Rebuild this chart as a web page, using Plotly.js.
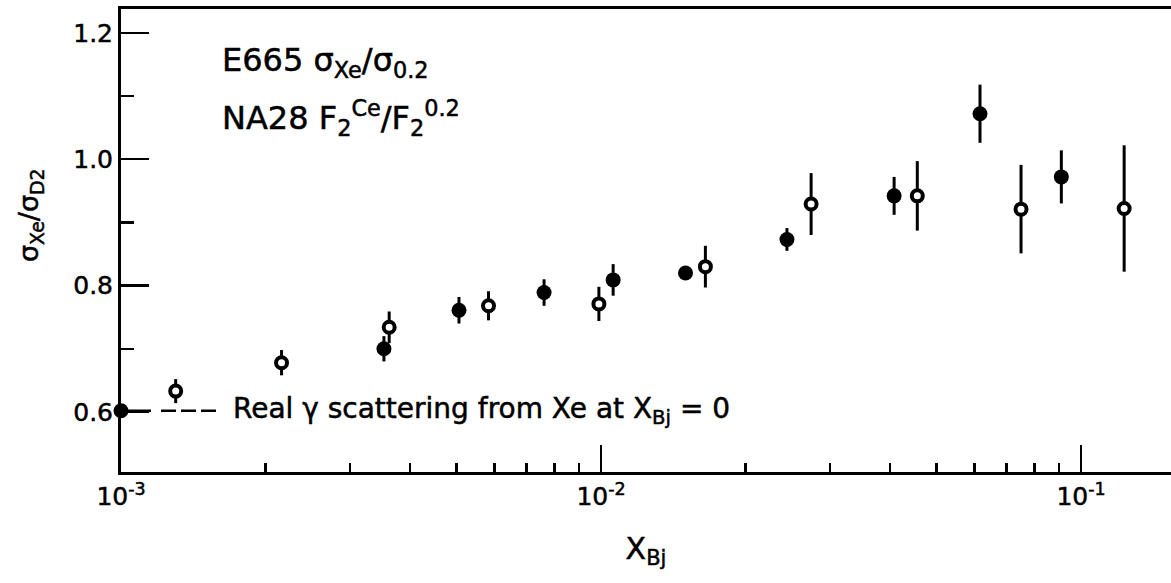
<!DOCTYPE html>
<html>
<head>
<meta charset="utf-8">
<script src="https://cdn.plot.ly/plotly-3.0.1.min.js"></script>
<style>
  html, body { margin: 0; padding: 0; background: #fff; overflow: hidden; }
  #chart { width: 1171px; height: 583px; }
  /* hand-lettered look: slightly heavier strokes */
  #chart .main-svg text { stroke: #000; stroke-width: 0.5px; }
</style>
</head>
<body>
<div id="chart"></div>
<script>
// E665 sigma(Xe)/sigma(D2) -- open circles
const e665X   = [0.0013, 0.00216, 0.00362, 0.00583, 0.0099, 0.0165, 0.0274, 0.0456, 0.075, 0.123];
const e665Y   = [0.633, 0.678, 0.734, 0.768, 0.771, 0.830, 0.929, 0.942, 0.921, 0.922];
const e665Err = [0.019, 0.020, 0.025, 0.023, 0.027, 0.033, 0.049, 0.055, 0.070, 0.100];

// NA28 F2(Ca)/F2(D2) -- filled circles
const na28X   = [0.00353, 0.00506, 0.00761, 0.0106, 0.0150, 0.0244, 0.0408, 0.0616, 0.091];
const na28Y   = [0.700, 0.761, 0.789, 0.809, 0.820, 0.873, 0.942, 1.072, 0.972];
const na28Err = [0.020, 0.021, 0.021, 0.025, 0.000, 0.018, 0.030, 0.046, 0.042];

// real photon scattering point (x_Bj = 0), placed on the left edge
const photonX = [0.001];
const photonY = [0.602];
const guideX  = [0.001, 0.0016];
const guideY  = [0.602, 0.602];

// axis ticks
const xTickVals  = [0.001, 0.01, 0.1];
const xTickText  = ['10<sup>-3</sup>', '10<sup>-2</sup>', '10<sup>-1</sup>'];
const yTickVals  = [0.6, 0.8, 1.0, 1.2];
const yTickText  = ['0.6', '0.8', '1.0', '1.2'];
const yMinorVals = [0.7, 0.9, 1.1];
const xMinorVals = [];
[0.001, 0.01].forEach(d => { for (let k = 2; k <= 9; k++) xMinorVals.push(k * d); });

const FONT = 'DejaVu Sans, Liberation Sans, sans-serif';
const INK = '#000';

const traces = [
  {
    x: guideX, y: guideY, mode: 'lines', hoverinfo: 'skip',
    line: { color: INK, width: 2.5, dash: '30px,10px,15px,5px,15px,5px,15px,200px' }
  },
  {
    x: na28X, y: na28Y, mode: 'markers', name: 'NA28',
    error_y: { type: 'data', array: na28Err, visible: true, color: INK, thickness: 3, width: 0 },
    marker: { symbol: 'circle', size: 15, color: INK }
  },
  {
    x: e665X, y: e665Y, mode: 'markers', name: 'E665',
    error_y: { type: 'data', array: e665Err, visible: true, color: INK, thickness: 3, width: 0 },
    marker: { symbol: 'circle', size: 11, color: '#fff', line: { color: INK, width: 4 } }
  },
  {
    x: photonX, y: photonY, mode: 'markers', name: 'real photon',
    marker: { symbol: 'circle', size: 15, color: INK }, cliponaxis: false
  }
];

const layout = {
  width: 1171, height: 583,
  margin: { l: 121, r: 0, t: 9, b: 111 },
  paper_bgcolor: '#fff', plot_bgcolor: '#fff',
  showlegend: false,
  font: { family: FONT, color: INK, size: 24 },
  xaxis: {
    type: 'log', range: [-3, -0.8125],
    showline: true, linewidth: 3, linecolor: INK, mirror: true,
    showgrid: false, zeroline: false,
    ticks: 'inside', ticklen: 27, tickwidth: 2.5, tickcolor: INK,
    tickvals: xTickVals, ticktext: xTickText,
    tickfont: { family: FONT, size: 25, color: INK },
    minor: { tickvals: xMinorVals, ticks: 'inside', ticklen: 9, tickwidth: 2.5, tickcolor: INK, showgrid: false },
    title: { text: 'X<sub>Bj</sub>', font: { family: FONT, size: 30, color: INK }, standoff: 28 }
  },
  yaxis: {
    range: [0.505, 1.2377],
    showline: true, linewidth: 3, linecolor: INK, mirror: false,
    showgrid: false, zeroline: false,
    ticks: 'inside', ticklen: 28, tickwidth: 2.5, tickcolor: INK,
    tickvals: yTickVals, ticktext: yTickText,
    tickfont: { family: FONT, size: 25, color: INK },
    minor: { tickvals: yMinorVals, ticks: 'inside', ticklen: 13, tickwidth: 2.5, tickcolor: INK, showgrid: false }
  },
  annotations: [
    {
      // y-axis title, set a little above the plot's middle
      xref: 'paper', yref: 'paper', x: -0.0867, y: 0.555, xanchor: 'center', yanchor: 'middle',
      textangle: -90, text: 'σ<sub>Xe</sub>/σ<sub>D2</sub>', showarrow: false,
      font: { family: FONT, size: 27, color: INK }
    },
    {
      xref: 'paper', yref: 'paper', x: 0.094, y: 0.886, xanchor: 'left', yanchor: 'middle',
      text: 'E665 σ<sub>Xe</sub>/σ<sub>0.2</sub>', showarrow: false,
      font: { family: FONT, size: 32, color: INK }
    },
    {
      xref: 'paper', yref: 'paper', x: 0.094, y: 0.765, xanchor: 'left', yanchor: 'middle',
      text: 'NA28 F<sub>2</sub><sup>Ce</sup>/F<sub>2</sub><sup>0.2</sup>', showarrow: false,
      font: { family: FONT, size: 32, color: INK }
    },
    {
      xref: 'x', yref: 'y', x: -2.771, y: 0.602, xanchor: 'left', yanchor: 'middle',
      text: 'Real γ scattering from Xe at X<sub>Bj</sub> = 0', showarrow: false,
      font: { family: FONT, size: 28, color: INK }
    }
  ]
};

Plotly.newPlot('chart', traces, layout, { staticPlot: true, displayModeBar: false });
</script>
</body>
</html>
